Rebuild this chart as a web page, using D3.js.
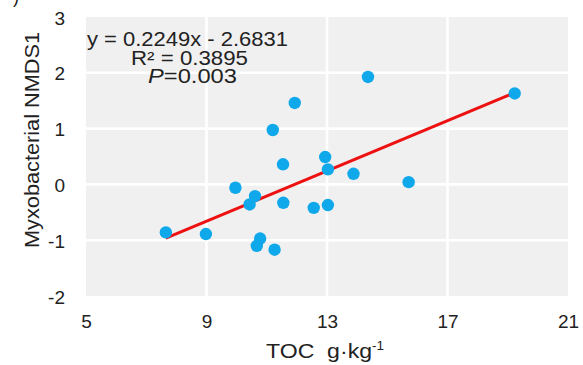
<!DOCTYPE html>
<html>
<head>
<meta charset="utf-8">
<script src="https://cdn.jsdelivr.net/npm/d3@7"></script>
<style>
  html, body { margin: 0; padding: 0; background: #fff; }
  svg { display: block; font-family: "Liberation Sans", Arial, sans-serif; }
</style>
</head>
<body>
<svg id="chart" width="583" height="365"></svg>
<script>
// TOC (g/kg) vs Myxobacterial NMDS1
const tocValues = [7.65, 8.98, 9.96, 10.61, 10.43, 11.54, 11.55, 11.20, 10.78, 10.67,
                   11.26, 14.36, 11.93, 19.23, 12.94, 13.03, 13.88, 15.71, 12.56, 13.03];
const nmdsValues = [-0.86, -0.89, -0.06, -0.21, -0.36, 0.36, -0.33, 0.975, -0.97, -1.10,
                    -1.17, 1.925, 1.46, 1.63, 0.49, 0.27, 0.19, 0.04, -0.42, -0.37];

const xTicks = [5, 9, 13, 17, 21];
const yTicks = [-2, -1, 0, 1, 2, 3];

// fitted line as printed on the chart
const slope = 0.2249, intercept = -2.6831;
const statLines = ['y = 0.2249x - 2.6831', 'R² = 0.3895', 'P=0.003'];

const svg = d3.select('#chart');
const M = { left: 86, right: 568, top: 17, bottom: 296 };
const FONT = '"Liberation Sans", Arial, sans-serif';

const x = d3.scaleLinear().domain([5, 21]).range([M.left, M.right]);
const y = d3.scaleLinear().domain([-2, 3]).range([M.bottom, M.top]);

// panel
svg.append('rect')
  .attr('x', M.left).attr('y', M.top)
  .attr('width', M.right - M.left).attr('height', M.bottom - M.top)
  .attr('fill', '#f0f0f0');

// white gridlines (interior only)
svg.append('g').selectAll('line')
  .data(xTicks.slice(1, -1))
  .join('line')
  .attr('x1', d => x(d)).attr('x2', d => x(d))
  .attr('y1', M.top).attr('y2', M.bottom)
  .attr('stroke', '#fff').attr('stroke-width', 2.6);

svg.append('g').selectAll('line')
  .data(yTicks.slice(1, -1))
  .join('line')
  .attr('x1', M.left).attr('x2', M.right)
  .attr('y1', d => y(d)).attr('y2', d => y(d))
  .attr('stroke', '#fff').attr('stroke-width', 2.6);

// axes (labels only), plain hyphen for negatives like the original
const fmt = d => String(d);

const xAxis = svg.append('g')
  .attr('transform', `translate(0,${M.bottom + 15})`)
  .call(d3.axisBottom(x).tickValues(xTicks).tickSize(0).tickFormat(fmt));
xAxis.select('.domain').remove();
xAxis.selectAll('text').attr('font-size', 19).attr('fill', '#222').attr('font-family', FONT);

const yAxis = svg.append('g')
  .attr('transform', `translate(${M.left - 21},1)`)
  .call(d3.axisLeft(y).tickValues(yTicks).tickSize(0).tickFormat(fmt));
yAxis.select('.domain').remove();
yAxis.selectAll('text').attr('font-size', 19).attr('fill', '#222').attr('font-family', FONT)
  .attr('text-anchor', 'end').attr('x', 0);

// axis titles
svg.append('text')
  .attr('transform', 'translate(39,140) rotate(-90)')
  .attr('text-anchor', 'middle')
  .attr('font-size', 20.5).attr('fill', '#222')
  .attr('textLength', 216).attr('lengthAdjust', 'spacingAndGlyphs')
  .text('Myxobacterial NMDS1');

const xt = svg.append('text')
  .attr('x', 266).attr('y', 358)
  .attr('font-size', 20.5).attr('fill', '#222')
  .attr('xml:space', 'preserve');
xt.append('tspan').attr('textLength', 106).attr('lengthAdjust', 'spacingAndGlyphs').text('TOC  g·kg');
xt.append('tspan').attr('font-size', 13.5).attr('dy', -8).text('-1');

// regression line over the observed TOC range
const xr = d3.extent(tocValues);
svg.append('line')
  .attr('x1', x(xr[0])).attr('y1', y(slope * xr[0] + intercept))
  .attr('x2', x(xr[1])).attr('y2', y(slope * xr[1] + intercept))
  .attr('stroke', '#ee1111').attr('stroke-width', 3);

// points
svg.append('g').selectAll('circle')
  .data(d3.zip(tocValues, nmdsValues))
  .join('circle')
  .attr('cx', d => x(d[0]))
  .attr('cy', d => y(d[1]))
  .attr('r', 6.2)
  .attr('fill', '#0fa8ea');

// fit statistics
const stat = svg.append('g').attr('font-size', 19.5).attr('fill', '#222');
stat.append('text').attr('x', 87).attr('y', 46)
  .attr('textLength', 201).attr('lengthAdjust', 'spacingAndGlyphs').text(statLines[0]);
stat.append('text').attr('x', 131).attr('y', 65)
  .attr('textLength', 117).attr('lengthAdjust', 'spacingAndGlyphs').text(statLines[1]);
const p = stat.append('text').attr('x', 148).attr('y', 83)
  .attr('textLength', 89).attr('lengthAdjust', 'spacingAndGlyphs');
p.append('tspan').attr('font-style', 'italic').text(statLines[2].slice(0, 1));
p.append('tspan').text(statLines[2].slice(1));

// cropped panel tag at the top-left corner
svg.append('text').attr('x', 13).attr('y', 3).attr('font-size', 18).attr('fill', '#222').text(')');
</script>
</body>
</html>
